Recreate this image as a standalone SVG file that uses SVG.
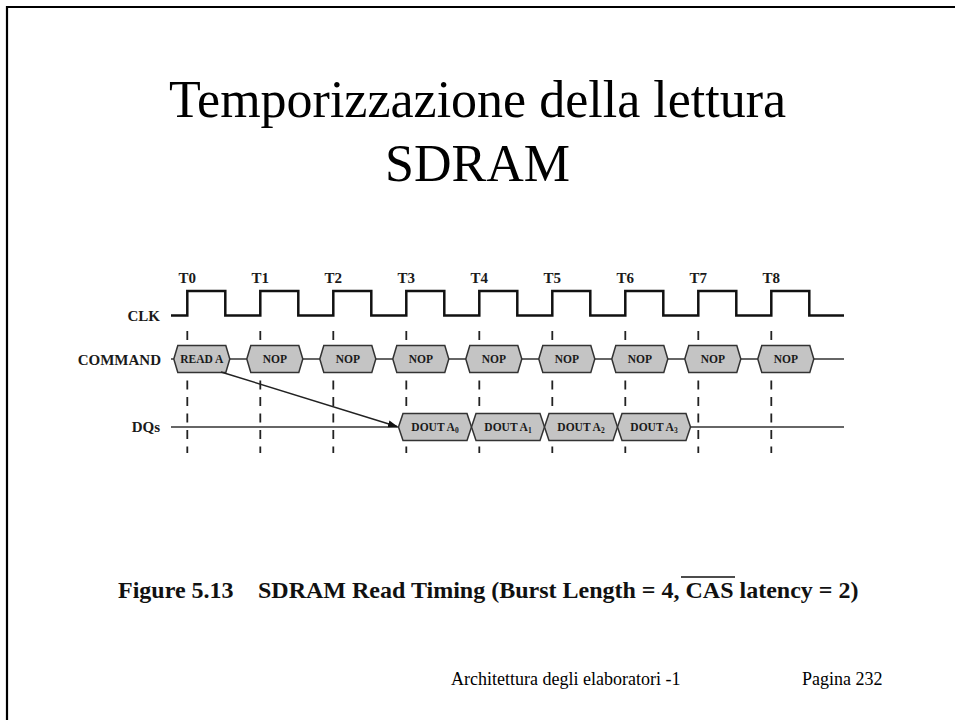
<svg xmlns="http://www.w3.org/2000/svg" width="955" height="720" viewBox="0 0 955 720">
<style>
.title{font-family:"Liberation Serif","Times New Roman",serif;font-size:52px;fill:#000}
.lbl{font-family:"Liberation Serif","Times New Roman",serif;font-weight:bold;font-size:15px;fill:#1a1a1a}
.tl{font-family:"Liberation Serif","Times New Roman",serif;font-weight:bold;font-size:15px;fill:#1a1a1a;text-anchor:middle}
.bt{font-family:"Liberation Serif","Times New Roman",serif;font-weight:bold;font-size:11.5px;fill:#1a1a1a;text-anchor:middle}
.sub{font-size:7.5px}
.box{fill:#c4c4c4;stroke:#333;stroke-width:1.5}
.sig{fill:none;stroke:#333;stroke-width:1.6}
.clk{fill:none;stroke:#111;stroke-width:2.5}
.dash{stroke:#222;stroke-width:1.8;stroke-dasharray:9 7.5}
.cap{font-family:"Liberation Serif","Times New Roman",serif;font-weight:bold;font-size:24px;fill:#111}
.foot{font-family:"Liberation Serif","Times New Roman",serif;font-size:18px;fill:#000}
</style>
<defs>
<polygon id="cmdbox" class="box" points="-13.5,0 -9.5,-13.5 38.5,-13.5 42.5,0 38.5,13.5 -9.5,13.5"/>
<polygon id="dqbox" class="box" points="0,0 4.5,-13.5 68.5,-13.5 73,0 68.5,13.5 4.5,13.5"/>
<marker id="arr" markerWidth="10" markerHeight="8" refX="9" refY="4" orient="auto" markerUnits="userSpaceOnUse">
<path d="M0,0.5 L10,4 L0,7.5 z" fill="#111"/>
</marker>
</defs>
<rect width="955" height="720" fill="#fff"/>
<g id="frame" stroke="#000" stroke-width="2.2" fill="none">
<line x1="6" y1="7" x2="955" y2="7"/>
<line x1="7" y1="6" x2="7" y2="720"/>
</g>
<g id="title">
<text class="title" x="477.5" y="117" text-anchor="middle">Temporizzazione della lettura</text>
<text class="title" x="477.5" y="181" text-anchor="middle">SDRAM</text>
</g>
<g id="labels">
<text class="lbl" x="160" y="321" text-anchor="end">CLK</text>
<text class="lbl" x="161" y="364.5" text-anchor="end">COMMAND</text>
<text class="lbl" x="160" y="432" text-anchor="end">DQs</text>
<text class="tl" x="187.3" y="283">T0</text>
<text class="tl" x="260.3" y="283">T1</text>
<text class="tl" x="333.3" y="283">T2</text>
<text class="tl" x="406.3" y="283">T3</text>
<text class="tl" x="479.3" y="283">T4</text>
<text class="tl" x="552.3" y="283">T5</text>
<text class="tl" x="625.3" y="283">T6</text>
<text class="tl" x="698.3" y="283">T7</text>
<text class="tl" x="771.3" y="283">T8</text>
</g>
<g id="connectors">
<g id="ticks">
<line class="dash" x1="187.3" y1="331" x2="187.3" y2="453"/>
<line class="dash" x1="260.3" y1="331" x2="260.3" y2="453"/>
<line class="dash" x1="333.3" y1="331" x2="333.3" y2="453"/>
<line class="dash" x1="406.3" y1="331" x2="406.3" y2="453"/>
<line class="dash" x1="479.3" y1="331" x2="479.3" y2="453"/>
<line class="dash" x1="552.3" y1="331" x2="552.3" y2="453"/>
<line class="dash" x1="625.3" y1="331" x2="625.3" y2="453"/>
<line class="dash" x1="698.3" y1="331" x2="698.3" y2="453"/>
<line class="dash" x1="771.3" y1="331" x2="771.3" y2="453"/>
</g>
<path id="clk" class="clk" d="M171,315.5 H187.3 V291 H225.3 V315.5 H260.3 V291 H298.3 V315.5 H333.3 V291 H371.3 V315.5 H406.3 V291 H444.3 V315.5 H479.3 V291 H517.3 V315.5 H552.3 V291 H590.3 V315.5 H625.3 V291 H663.3 V315.5 H698.3 V291 H736.3 V315.5 H771.3 V291 H809.3 V315.5 H844"/>
<line id="cmdline" class="sig" x1="171" y1="359" x2="844" y2="359"/>
<line id="dqline" class="sig" x1="171" y1="427" x2="844" y2="427"/>
</g>
<g id="cmd-t0" transform="translate(187.3,359)"><use href="#cmdbox"/><text class="bt" x="14.5" y="4">READ A</text></g>
<g id="cmd-t1" transform="translate(260.3,359)"><use href="#cmdbox"/><text class="bt" x="14.5" y="4">NOP</text></g>
<g id="cmd-t2" transform="translate(333.3,359)"><use href="#cmdbox"/><text class="bt" x="14.5" y="4">NOP</text></g>
<g id="cmd-t3" transform="translate(406.3,359)"><use href="#cmdbox"/><text class="bt" x="14.5" y="4">NOP</text></g>
<g id="cmd-t4" transform="translate(479.3,359)"><use href="#cmdbox"/><text class="bt" x="14.5" y="4">NOP</text></g>
<g id="cmd-t5" transform="translate(552.3,359)"><use href="#cmdbox"/><text class="bt" x="14.5" y="4">NOP</text></g>
<g id="cmd-t6" transform="translate(625.3,359)"><use href="#cmdbox"/><text class="bt" x="14.5" y="4">NOP</text></g>
<g id="cmd-t7" transform="translate(698.3,359)"><use href="#cmdbox"/><text class="bt" x="14.5" y="4">NOP</text></g>
<g id="cmd-t8" transform="translate(771.3,359)"><use href="#cmdbox"/><text class="bt" x="14.5" y="4">NOP</text></g>
<g id="dq-a0" transform="translate(398.5,427)"><use href="#dqbox"/><text class="bt" x="36.5" y="4">DOUT A<tspan class="sub" dy="1.5">0</tspan></text></g>
<g id="dq-a1" transform="translate(471.5,427)"><use href="#dqbox"/><text class="bt" x="36.5" y="4">DOUT A<tspan class="sub" dy="1.5">1</tspan></text></g>
<g id="dq-a2" transform="translate(544.5,427)"><use href="#dqbox"/><text class="bt" x="36.5" y="4">DOUT A<tspan class="sub" dy="1.5">2</tspan></text></g>
<g id="dq-a3" transform="translate(617.5,427)"><use href="#dqbox"/><text class="bt" x="36.5" y="4">DOUT A<tspan class="sub" dy="1.5">3</tspan></text></g>
<g id="arrow">
<line x1="221" y1="372" x2="397" y2="426.5" stroke="#222" stroke-width="1.5" marker-end="url(#arr)"/>
</g>
<g id="caption">
<text class="cap" x="118" y="598">Figure 5.13</text>
<text class="cap" x="258" y="598">SDRAM Read Timing (Burst Length = 4, CAS latency = 2)</text>
<line x1="681" y1="577" x2="735" y2="577" stroke="#111" stroke-width="1.6"/>
</g>
<g id="footer">
<text class="foot" x="451" y="685">Architettura degli elaboratori -1</text>
<text class="foot" x="802" y="685">Pagina 232</text>
</g>
</svg>
